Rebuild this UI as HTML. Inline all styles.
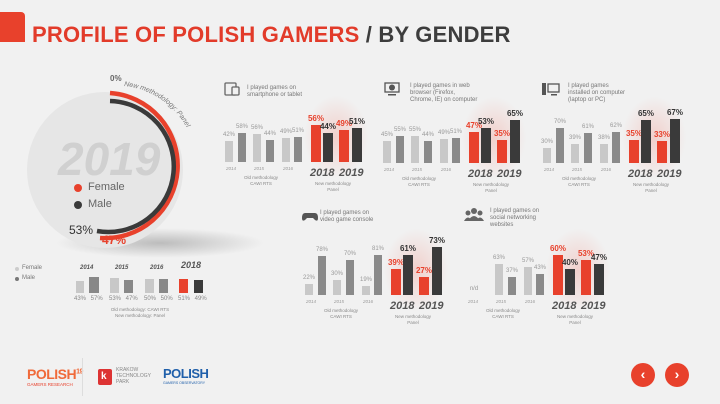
<!DOCTYPE html>
<html><head><meta charset="utf-8"><style>
body{margin:0;width:720px;height:404px;overflow:hidden;background:#f1f1f1;font-family:"Liberation Sans",sans-serif;position:relative}
.a{position:absolute;white-space:nowrap}
.b{position:absolute}
.t{font-size:6px;color:#777;line-height:7px}
.p{font-size:6px;color:#999;text-align:center;width:16px}
.pn{font-size:8px;font-weight:bold;text-align:center;width:18px}
.yo{font-size:4.5px;color:#999;font-style:italic;text-align:center;width:20px}
.yn{font-size:11px;font-weight:bold;font-style:italic;color:#555}
.cap{font-size:4.5px;color:#888;text-align:center;width:60px;line-height:6px}
</style></head><body>
<div class="b" style="left:0;top:12px;width:25px;height:30px;background:#e8412c;border-radius:0 4px 0 0"></div>
<div class="a" style="left:32px;top:22px;font-size:22px;font-weight:bold;color:#e23b2a;letter-spacing:0.2px">PROFILE OF POLISH GAMERS <span style="color:#3d3d3d">/ BY GENDER</span></div>

<!-- pie -->
<div class="b" style="left:55px;top:228px;width:210px;height:30px;border-radius:50%;background:radial-gradient(ellipse,rgba(0,0,0,0.22),rgba(0,0,0,0) 70%)"></div>
<svg class="b" style="left:0;top:60px" width="260" height="200">
<defs><path id="arcp" d="M124 26 A80 80 0 0 1 196 100"/></defs>
<circle cx="105" cy="110" r="78" fill="#e6e6e6"/>
<path d="M110 33 A72.5 72.5 0 1 1 100 178" fill="none" stroke="#e8412c" stroke-width="4.5"/>
<path d="M110 41 A65.5 65.5 0 1 1 97 171" fill="none" stroke="#3a3a3a" stroke-width="4.5"/>
<text font-size="7" font-style="italic" fill="#777"><textPath href="#arcp">New methodology: Panel</textPath></text>
</svg>
<div class="a" style="left:58px;top:132px;font-size:46px;font-weight:bold;font-style:italic;color:#d0d0d0">2019</div>
<div class="b" style="left:74px;top:184px;width:8px;height:8px;border-radius:50%;background:#e8412c"></div>
<div class="a" style="left:88px;top:181px;font-size:11px;color:#666">Female</div>
<div class="b" style="left:74px;top:201px;width:8px;height:8px;border-radius:50%;background:#3a3a3a"></div>
<div class="a" style="left:88px;top:198px;font-size:11px;color:#666">Male</div>
<div class="a" style="left:110px;top:74px;font-size:8px;font-weight:bold;color:#666">0%</div>
<div class="a" style="left:69px;top:223px;font-size:12px;color:#333">53%</div>
<div class="a" style="left:102px;top:233px;font-size:12px;font-weight:bold;color:#e8412c">47%</div>

<!-- bottom left -->
<div class="b" style="left:15px;top:267px;width:4px;height:4px;border-radius:50%;background:#ccc"></div>
<div class="a t" style="left:22px;top:265px">Female</div>
<div class="b" style="left:15px;top:277px;width:4px;height:4px;border-radius:50%;background:#777"></div>
<div class="a t" style="left:22px;top:275px">Male</div>
<div class="a" style="left:80px;top:265px;font-size:6px;font-style:italic;font-weight:bold;color:#555">2014</div>
<div class="a" style="left:115px;top:265px;font-size:6px;font-style:italic;font-weight:bold;color:#555">2015</div>
<div class="a" style="left:150px;top:265px;font-size:6px;font-style:italic;font-weight:bold;color:#555">2016</div>
<div class="a" style="left:181px;top:260px;font-size:9px;font-style:italic;font-weight:bold;color:#555">2018</div>
<div class="b" style="left:76px;top:281px;width:8px;height:12px;background:#c8c8c8"></div>
<div class="b" style="left:89px;top:277px;width:10px;height:16px;background:#888"></div>
<div class="b" style="left:110px;top:278px;width:9px;height:15px;background:#c8c8c8"></div>
<div class="b" style="left:124px;top:280px;width:9px;height:13px;background:#888"></div>
<div class="b" style="left:145px;top:279px;width:9px;height:14px;background:#c8c8c8"></div>
<div class="b" style="left:159px;top:279px;width:9px;height:14px;background:#888"></div>
<div class="b" style="left:179px;top:279px;width:9px;height:14px;background:#e8412c"></div>
<div class="b" style="left:194px;top:280px;width:9px;height:13px;background:#3a3a3a"></div>
<div class="a" style="left:74px;top:296px;font-size:6px;color:#888;word-spacing:3px">43% 57%</div>
<div class="a" style="left:109px;top:296px;font-size:6px;color:#888;word-spacing:3px">53% 47%</div>
<div class="a" style="left:144px;top:296px;font-size:6px;color:#888;word-spacing:3px">50% 50%</div>
<div class="a" style="left:178px;top:296px;font-size:6px;color:#888;word-spacing:3px">51% 49%</div>
<div class="a cap" style="left:110px;top:307px">Old methodology: CAWI RTS<br>New methodology: Panel</div>

<div id="charts"></div>

<!-- icons & titles -->
<svg class="b" style="left:224px;top:82px" width="16" height="14"><rect x="1" y="1" width="11" height="12" rx="1" fill="none" stroke="#666" stroke-width="1.3"/><rect x="8" y="5" width="7" height="8" rx="1" fill="#f1f1f1" stroke="#666" stroke-width="1.3"/></svg>
<div class="a t" style="left:247px;top:85px">I played games on<br>smartphone or tablet</div>
<svg class="b" style="left:384px;top:82px" width="16" height="14"><rect x="1" y="1" width="14" height="9" fill="none" stroke="#555" stroke-width="1.3"/><circle cx="8" cy="5.5" r="3" fill="#555"/><rect x="4" y="12" width="8" height="1.5" fill="#555"/></svg>
<div class="a t" style="left:410px;top:83px">I played games in web<br>browser (Firefox,<br>Chrome, IE) on computer</div>
<svg class="b" style="left:542px;top:82px" width="18" height="14"><rect x="0" y="1" width="4" height="12" fill="#555"/><rect x="6" y="2" width="11" height="8" fill="none" stroke="#555" stroke-width="1.3"/><rect x="9" y="12" width="6" height="1.5" fill="#555"/></svg>
<div class="a t" style="left:568px;top:83px">I played games<br>installed on computer<br>(laptop or PC)</div>
<svg class="b" style="left:302px;top:210px" width="16" height="12"><path d="M3 3 H13 Q16 3 16 8 Q16 12 13 10 L11 8 H5 L3 10 Q0 12 0 8 Q0 3 3 3Z" fill="#555"/></svg>
<div class="a t" style="left:320px;top:210px">I played games on<br>video game console</div>
<svg class="b" style="left:464px;top:207px" width="20" height="14"><circle cx="10" cy="4" r="3" fill="#666"/><circle cx="4" cy="6" r="2.5" fill="#666"/><circle cx="16" cy="6" r="2.5" fill="#666"/><path d="M4 14 Q10 4 16 14Z" fill="#666"/><path d="M0 14 Q4 7 8 14Z" fill="#666"/><path d="M12 14 Q16 7 20 14Z" fill="#666"/></svg>
<div class="a t" style="left:490px;top:208px">I played games on<br>social networking<br>websites</div>

<!-- footer -->
<div class="a" style="left:27px;top:366px;font-size:14px;font-weight:bold;color:#f06a3a;letter-spacing:-0.5px">POLISH<sup style="font-size:7px">19</sup></div>
<div class="a" style="left:27px;top:382px;font-size:4.5px;color:#e8412c">GAMERS RESEARCH</div>
<div class="b" style="left:82px;top:358px;width:1px;height:38px;background:#ddd"></div>
<div class="b" style="left:98px;top:369px;width:14px;height:16px;background:#d33;border-radius:2px"></div>
<div class="a" style="left:101px;top:371px;font-size:10px;color:#fff;font-weight:bold">k</div>
<div class="a" style="left:116px;top:367px;font-size:5px;color:#888;line-height:6px">KRAKOW<br>TECHNOLOGY<br>PARK</div>
<div class="a" style="left:163px;top:366px;font-size:13px;font-weight:bold;color:#1f5faa;letter-spacing:-0.5px">POLISH</div>
<div class="a" style="left:163px;top:381px;font-size:3.5px;color:#1f5faa">GAMERS OBSERVATORY</div>
<div class="b" style="left:631px;top:363px;width:24px;height:24px;border-radius:50%;background:#e8412c;color:#fff;font-size:14px;font-weight:bold;text-align:center;line-height:23px">&#8249;</div>
<div class="b" style="left:665px;top:363px;width:24px;height:24px;border-radius:50%;background:#e8412c;color:#fff;font-size:14px;font-weight:bold;text-align:center;line-height:23px">&#8250;</div>

<script>
var C=[[225,162,[42,58,56,44,49,51],[56,44,49,51]],
[383,163,[45,55,55,44,49,51],[47,53,35,65]],
[543,163,[30,70,39,61,38,62],[35,65,33,67]],
[305,295,[22,78,30,70,19,81],[39,61,27,73]],
[467,295,[null,null,63,37,57,43],[60,40,53,47]]];
var h='',ox=[0,13,28,41,57,69],nx=[86,98,114,127],yrs=['2014','2015','2016'];
C.forEach(function(c){var x=c[0],b=c[1];
h+='<div class="b" style="left:'+(x+76)+'px;top:'+(b-70)+'px;width:70px;height:90px;background:radial-gradient(ellipse,rgba(240,90,70,0.22),rgba(240,90,70,0) 65%)"></div>';
for(var i=0;i<6;i++){var v=c[2][i];var cx=x+ox[i];
 if(v===null){if(i==0)h+='<div class="a p" style="left:'+(cx-1)+'px;top:'+(b-9)+'px">n/d</div>';continue;}
 var hh=v*0.5;h+='<div class="b" style="left:'+cx+'px;top:'+(b-hh)+'px;width:8px;height:'+hh+'px;background:'+(i%2?'#8a8a8a':'#c8c8c8')+'"></div>';
 h+='<div class="a p" style="left:'+(cx-4)+'px;top:'+(b-hh-9)+'px">'+v+'%</div>';}
for(i=0;i<3;i++)h+='<div class="a yo" style="left:'+(x+ox[2*i]-4)+'px;top:'+(b+4)+'px">'+yrs[i]+'</div>';
for(i=0;i<4;i++){v=c[3][i];cx=x+nx[i];var hh=v*0.66;var red=i%2==0;
 h+='<div class="b" style="left:'+cx+'px;top:'+(b-hh)+'px;width:10px;height:'+hh+'px;background:'+(red?'#e8412c':'#3a3a3a')+'"></div>';
 h+='<div class="a pn" style="left:'+(cx-4)+'px;top:'+(b-hh-11)+'px;color:'+(red?'#e8412c':'#333')+'">'+v+'%</div>';}
h+='<div class="a yn" style="left:'+(x+85)+'px;top:'+(b+5)+'px">2018</div><div class="a yn" style="left:'+(x+114)+'px;top:'+(b+5)+'px">2019</div>';
h+='<div class="a cap" style="left:'+(x+6)+'px;top:'+(b+13)+'px">Old methodology<br>CAWI RTS</div>';
h+='<div class="a cap" style="left:'+(x+78)+'px;top:'+(b+19)+'px">New methodology<br>Panel</div>';
});
document.getElementById('charts').innerHTML=h;
</script>
</body></html>
